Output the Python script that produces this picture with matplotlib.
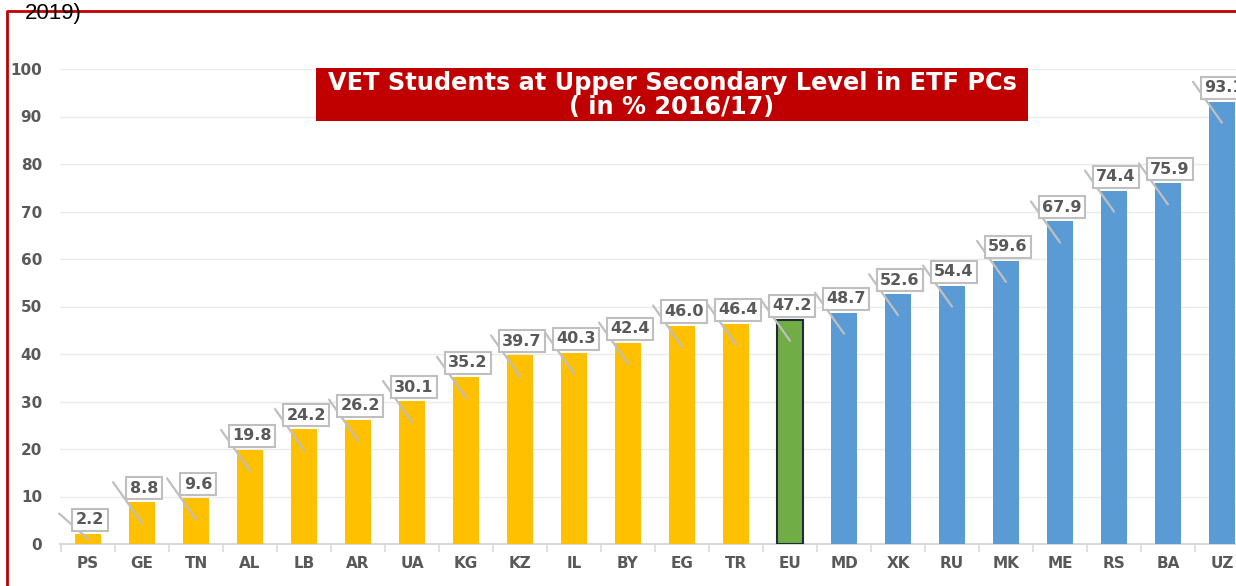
import numpy as np
import matplotlib
matplotlib.use("Agg")
import matplotlib.pyplot as plt
import matplotlib.transforms as mtransforms
from matplotlib.patches import Rectangle
from matplotlib.lines import Line2D

# dados
paises = ["PS", "GE", "TN", "AL", "LB", "AR", "UA", "KG", "KZ", "IL", "BY", "EG",
          "TR", "EU", "MD", "XK", "RU", "MK", "ME", "RS", "BA", "UZ"]
valores = [2.2, 8.8, 9.6, 19.8, 24.2, 26.2, 30.1, 35.2, 39.7, 40.3, 42.4, 46.0,
           46.4, 47.2, 48.7, 52.6, 54.4, 59.6, 67.9, 74.4, 75.9, 93.1]
grupo = ["y"] * 13 + ["g"] + ["b"] * 8
yticks = [0, 10, 20, 30, 40, 50, 60, 70, 80, 90, 100]

cores = {"y": "#FFC000", "g": "#70AD47", "b": "#5B9BD5"}
W, H = 1236, 586
fig = plt.figure(figsize=(W / 100, H / 100), dpi=100)

# eixo em pixels
x0, x1 = 60, 1236
y0, y1 = 544, 69
ax = fig.add_axes([x0 / W, (H - y0) / H, (x1 - x0) / W, (y0 - y1) / H])
ax.set_xlim(-0.52, 21.26)
ax.set_ylim(0, 100)
pxu = (y0 - y1) / 100.0  # pixels por unidade

x = np.arange(len(paises))
for i, v in enumerate(valores):
    g = grupo[i]
    if g == "g":
        ax.bar(i, v, width=0.48, color=cores[g], edgecolor="#222a35", linewidth=1.5, zorder=3)
    else:
        ax.bar(i, v, width=0.48, color=cores[g], zorder=3)

# rotulos com linha de chamada
for i, v in enumerate(valores):
    desce = min(21, v * pxu * 0.5)
    base = mtransforms.offset_copy(ax.transData, fig=fig, x=0, y=-desce, units="dots")
    ax.annotate("", xy=(i, v), xycoords=base, xytext=(-29, 20 + desce), textcoords="offset pixels",
                arrowprops=dict(arrowstyle="-", color="#BFBFBF", lw=1.6, shrinkA=0, shrinkB=0),
                annotation_clip=False, zorder=4)
    ax.annotate(f"{v:.1f}", xy=(i, v), xytext=(2, 14), textcoords="offset pixels",
                ha="center", va="center", fontsize=11.5, fontweight="bold", color="#595959",
                bbox=dict(boxstyle="square,pad=0.22", fc="white", ec="#BFBFBF", lw=1.5),
                annotation_clip=False, zorder=5)

ax.set_yticks(yticks)
ax.set_xticks(x)
ax.set_xticklabels(paises)
ax.set_xticks(np.arange(-0.5, 21.5, 1), minor=True)
ax.tick_params(axis="x", which="major", length=0, pad=9, labelsize=11, labelcolor="#595959")
ax.tick_params(axis="x", which="minor", length=6, color="#D9D9D9", width=1.2, direction="out")
ax.tick_params(axis="y", length=0, pad=13, labelsize=11, labelcolor="#595959")
for lab in ax.get_xticklabels() + ax.get_yticklabels():
    lab.set_fontweight("bold")

ax.grid(axis="y", color="#EBEBEB", lw=1, zorder=0)
for s in ["left", "right", "top"]:
    ax.spines[s].set_visible(False)
ax.spines["bottom"].set_color("#D9D9D9")
ax.spines["bottom"].set_linewidth(1.5)

# caixa do titulo
fig.patches.append(Rectangle((316 / W, (H - 121) / H), (1028 - 316) / W, 53 / H,
                             transform=fig.transFigure, fc="#C00000", ec="none", zorder=6))
fig.text(672 / W, (H - 95) / H, "VET Students at Upper Secondary Level in ETF PCs\n( in % 2016/17)",
         ha="center", va="center", color="white", fontsize=17.3, fontweight="bold",
         linespacing=0.95, zorder=7)

# moldura vermelha e texto cortado
fig.lines.append(Line2D([7 / W, 7 / W, 1], [0, (H - 11) / H, (H - 11) / H],
                        transform=fig.transFigure, color="#C00000", lw=2))
fig.text(25 / W, (H - 14) / H, "2019)", ha="left", va="center", fontsize=16,
         family="Liberation Sans", color="black")

fig.savefig("out.png", dpi=100)
